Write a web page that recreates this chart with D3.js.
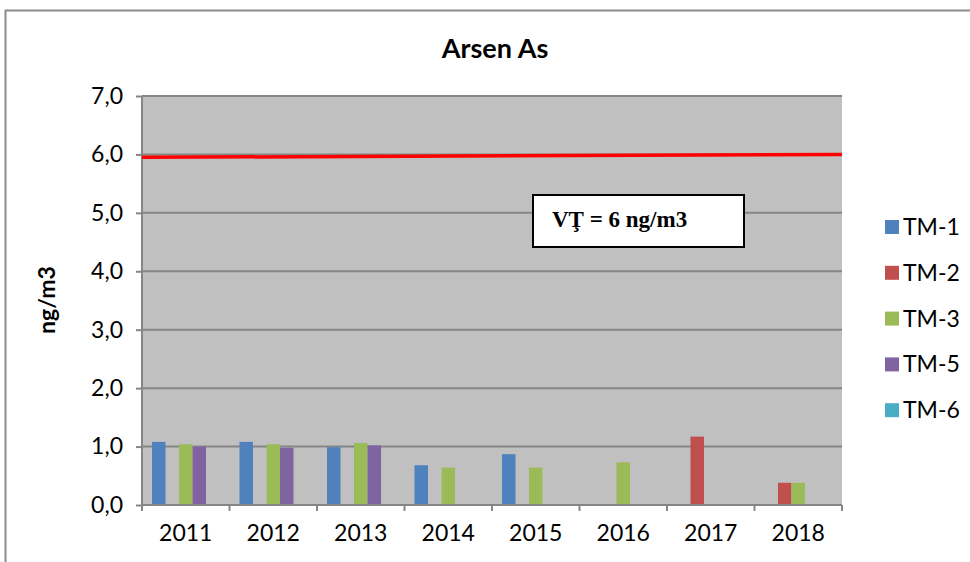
<!DOCTYPE html>
<html>
<head>
<meta charset="utf-8">
<script src="https://cdn.jsdelivr.net/npm/d3@7"></script>
<style>
body { margin: 0; background: #fff; }
text { font-family: Lato, "Open Sans", sans-serif; }
</style>
</head>
<body>
<svg id="chart" width="970" height="562"></svg>
<script>
// data
var years = ["2011", "2012", "2013", "2014", "2015", "2016", "2017", "2018"];
var seriesNames = ["TM-1", "TM-2", "TM-3", "TM-5", "TM-6"];
var seriesColors = ["#4f81bd", "#c0504d", "#9bbb59", "#8064a2", "#4bacc6"];
var tm1 = [1.08, 1.08, 0.99, 0.68, 0.87, null, null, null];
var tm2 = [null, null, null, null, null, null, 1.17, 0.38];
var tm3 = [1.04, 1.04, 1.06, 0.64, 0.64, 0.73, null, 0.38];
var tm5 = [1.00, 0.98, 1.02, null, null, null, null, null];
var tm6 = [null, null, null, null, null, null, null, null];
var yTicks = [0, 1, 2, 3, 4, 5, 6, 7];
var limitLine = [5.95, 6.0]; // red line, start and end value
var limitLabel = "VŢ = 6 ng/m3";

var values = [tm1, tm2, tm3, tm5, tm6];

var svg = d3.select("#chart");

// outer frame
svg.append("rect")
    .attr("x", 5.5).attr("y", 10.5)
    .attr("width", 980).attr("height", 570)
    .attr("fill", "#fff")
    .attr("stroke", "#8c8c8c")
    .attr("stroke-width", 2);

var plot = { left: 142, right: 842, top: 96, bottom: 505 };

var x = d3.scaleBand().domain(years).range([plot.left, plot.right]).paddingInner(0).paddingOuter(0);
var xs = d3.scaleBand().domain(seriesNames).range([0, x.bandwidth()]).paddingOuter(0.74).paddingInner(0);
var y = d3.scaleLinear().domain([0, 7]).range([plot.bottom, plot.top]);

// plot background
svg.append("rect")
    .attr("x", plot.left).attr("y", plot.top)
    .attr("width", plot.right - plot.left).attr("height", plot.bottom - plot.top)
    .attr("fill", "#c0c0c0");

// gridlines
svg.append("g")
    .selectAll("line")
    .data(yTicks.filter(function(d) { return d > 0; }))
    .enter().append("line")
    .attr("x1", plot.left).attr("x2", plot.right)
    .attr("y1", function(d) { return y(d); })
    .attr("y2", function(d) { return y(d); })
    .attr("stroke", "#868686")
    .attr("stroke-width", 2);

// bars
var groups = svg.append("g")
    .selectAll("g")
    .data(seriesNames)
    .enter().append("g")
    .attr("fill", function(d, i) { return seriesColors[i]; });

groups.selectAll("rect")
    .data(function(d, i) {
        return years.map(function(yr, j) { return { year: yr, name: d, v: values[i][j] }; })
            .filter(function(e) { return e.v != null; });
    })
    .enter().append("rect")
    .attr("x", function(d) { return x(d.year) + xs(d.name); })
    .attr("width", xs.bandwidth())
    .attr("y", function(d) { return y(d.v); })
    .attr("height", function(d) { return y(0) - y(d.v); });

// axes
var fmt = function(d) { return d3.format(".1f")(d).replace(".", ","); };

var yAxis = svg.append("g")
    .attr("transform", "translate(" + plot.left + ",0)")
    .call(d3.axisLeft(y).tickValues(yTicks).tickFormat(fmt).tickSize(6).tickPadding(13));
yAxis.selectAll("text").attr("font-size", 23).attr("fill", "#000").style("font-family", "Lato, sans-serif");

var xAxis = svg.append("g")
    .attr("transform", "translate(0," + plot.bottom + ")")
    .call(d3.axisBottom(x).tickSize(0).tickPadding(20));
xAxis.selectAll("text").attr("font-size", 23).attr("fill", "#000").style("font-family", "Lato, sans-serif");

// x ticks at category boundaries
svg.append("g")
    .selectAll("line")
    .data(years.concat(["end"]))
    .enter().append("line")
    .attr("x1", function(d, i) { return plot.left + i * x.step(); })
    .attr("x2", function(d, i) { return plot.left + i * x.step(); })
    .attr("y1", plot.bottom).attr("y2", plot.bottom + 6)
    .attr("stroke", "#868686").attr("stroke-width", 2);

svg.selectAll(".domain").attr("stroke", "#868686").attr("stroke-width", 2);
svg.selectAll(".tick line").attr("stroke", "#868686").attr("stroke-width", 2);
xAxis.select(".domain").attr("d", "M" + plot.left + ",0H" + plot.right);
yAxis.select(".domain").attr("d", "M0," + plot.top + "V" + plot.bottom);

// limit line
svg.append("line")
    .attr("x1", plot.left).attr("x2", plot.right)
    .attr("y1", y(limitLine[0])).attr("y2", y(limitLine[1]))
    .attr("stroke", "#ff0000")
    .attr("stroke-width", 3.5);

// annotation box
svg.append("rect")
    .attr("x", 533).attr("y", 195)
    .attr("width", 211).attr("height", 52)
    .attr("fill", "#fff")
    .attr("stroke", "#000")
    .attr("stroke-width", 2);
svg.append("text")
    .attr("x", 552).attr("y", 227)
    .style("font-family", "'Liberation Serif', 'Times New Roman', serif")
    .attr("font-weight", "bold")
    .attr("font-size", 23)
    .text(limitLabel);

// title
svg.append("text")
    .attr("x", 495).attr("y", 58)
    .attr("text-anchor", "middle")
    .attr("font-weight", "bold")
    .attr("font-size", 27)
    .text("Arsen As");

// y label
svg.append("text")
    .attr("transform", "translate(55,300) rotate(-90)")
    .attr("text-anchor", "middle")
    .attr("font-weight", "bold")
    .attr("font-size", 23)
    .text("ng/m3");

// legend
var legend = svg.append("g")
    .selectAll("g")
    .data(seriesNames)
    .enter().append("g")
    .attr("transform", function(d, i) { return "translate(885," + (227 + i * 45.8) + ")"; });

legend.append("rect")
    .attr("x", 0).attr("y", -7)
    .attr("width", 14).attr("height", 14)
    .attr("fill", function(d, i) { return seriesColors[i]; });

legend.append("text")
    .attr("x", 18).attr("y", 8)
    .attr("font-size", 23)
    .text(function(d) { return d; });
</script>
</body>
</html>
